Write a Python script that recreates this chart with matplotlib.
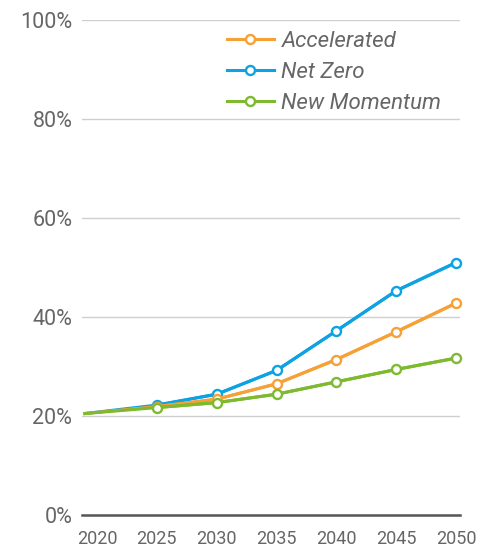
import matplotlib
matplotlib.use('Agg')
import matplotlib.pyplot as plt
from matplotlib.ticker import FuncFormatter

plt.rcParams['font.family'] = ['Roboto', 'DejaVu Sans']

# data (share, %)
years = [2019, 2025, 2030, 2035, 2040, 2045, 2050]
accelerated = [20.5, 21.9, 23.4, 26.5, 31.4, 37.0, 42.8]
net_zero = [20.5, 22.2, 24.4, 29.2, 37.2, 45.3, 51.0]
new_momentum = [20.5, 21.7, 22.7, 24.4, 26.9, 29.4, 31.7]

x_ticks = [2020, 2025, 2030, 2035, 2040, 2045, 2050]
y_ticks = [0, 20, 40, 60, 80, 100]

series = [
    ('Net Zero', net_zero, '#0DA2E2', 2),
    ('Accelerated', accelerated, '#F6A135', 3),
    ('New Momentum', new_momentum, '#7DBA2F', 4),
]

fig = plt.figure(figsize=(4.87, 5.5), dpi=100)
ax = fig.add_axes([82 / 487, 35 / 550, 378 / 487, 495 / 550])

handles = {}
for name, vals, color, z in series:
    # first point (2019) has no marker
    ax.plot(years, vals, color=color, lw=2.2, zorder=z, clip_on=False)
    h, = ax.plot(years[1:], vals[1:], color=color, lw=2.2, marker='o',
                 markersize=6.5, markerfacecolor='white', markeredgewidth=1.7,
                 markeredgecolor=color, zorder=z, clip_on=False, label=name)
    handles[name] = h

ax.set_xlim(2018.75, 2050.33)
ax.set_ylim(0, 100)
ax.set_xticks(x_ticks)
ax.set_yticks(y_ticks)
ax.yaxis.set_major_formatter(FuncFormatter(lambda v, p: f'{v:.0f}%'))

for y in y_ticks[1:]:
    ax.axhline(y, color='#cfcfcf', lw=1, zorder=0)
ax.axhline(0, color='#555555', lw=1.8, zorder=1, clip_on=False)

for s in ax.spines.values():
    s.set_visible(False)
ax.tick_params(axis='y', length=0, pad=7, labelsize=15.5, labelcolor='#666666')
ax.tick_params(axis='x', length=0, pad=11, labelsize=13, labelcolor='#666666')

order = ['Accelerated', 'Net Zero', 'New Momentum']
leg = fig.legend([handles[k] for k in order], order, loc='upper left',
                 bbox_to_anchor=(227 / 487, 1 - 31 / 550), frameon=False,
                 borderpad=0, borderaxespad=0, handlelength=2.1,
                 handletextpad=0.35, labelspacing=0.44,
                 prop={'size': 16, 'style': 'italic'})
for t in leg.get_texts():
    t.set_color('#666666')

fig.savefig('out.png', dpi=100)
